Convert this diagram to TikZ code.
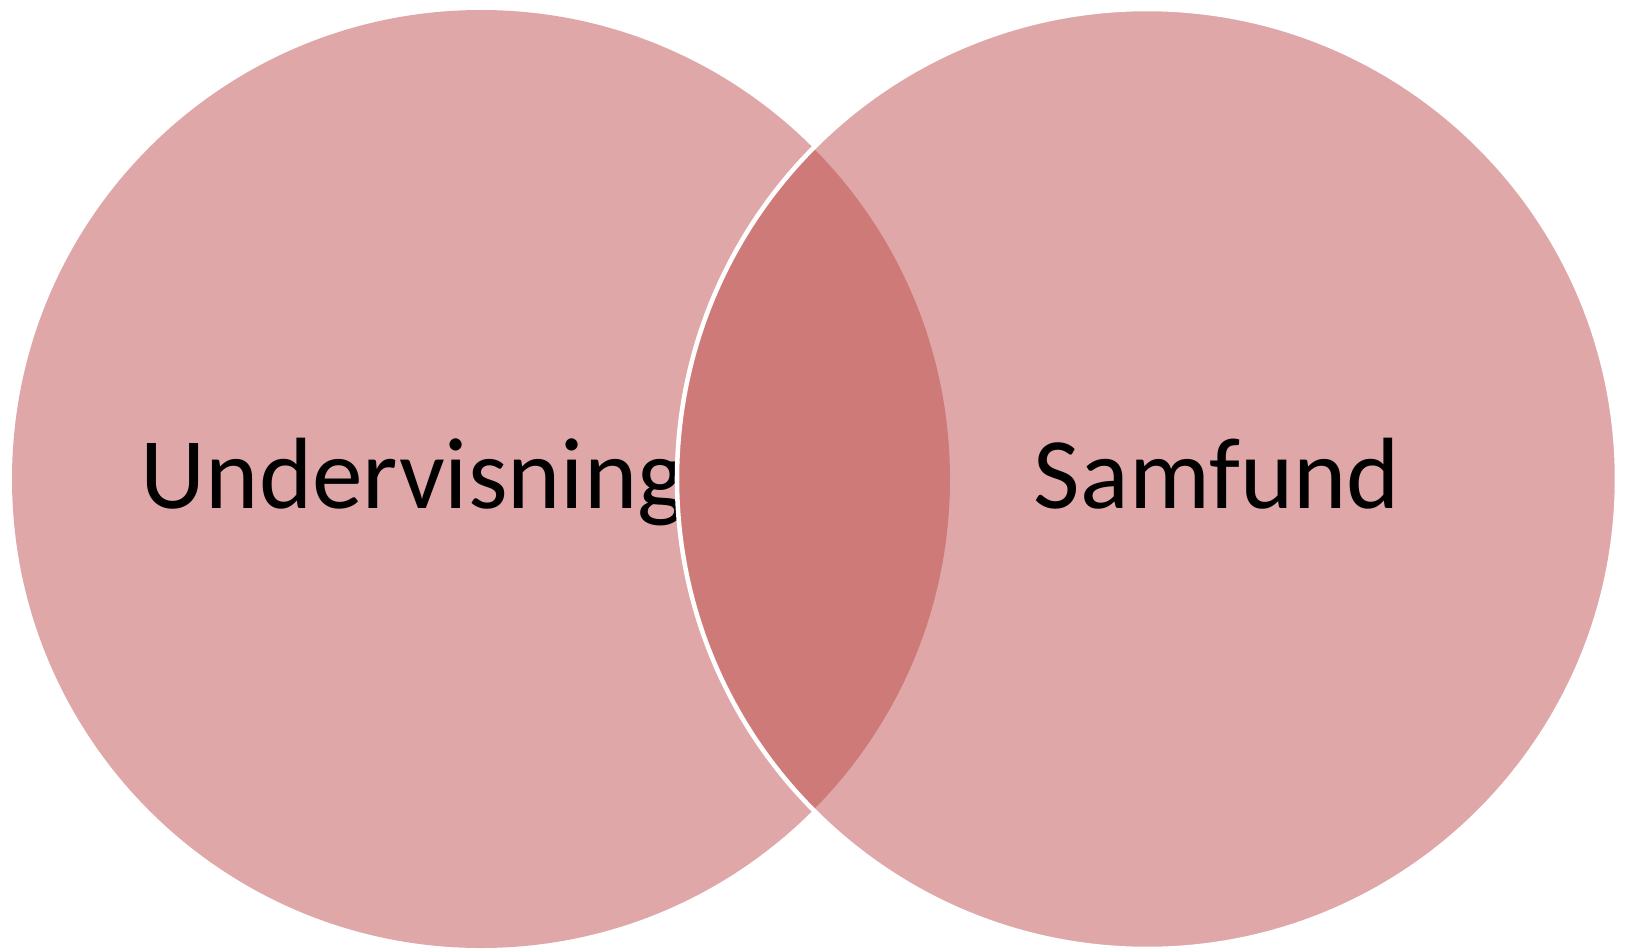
\documentclass[tikz,border=0pt]{standalone}
\usepackage{fontspec}
\setmainfont{Carlito}
\definecolor{vennlight}{RGB}{223,167,167}
\definecolor{venndark}{RGB}{206,122,120}
\tikzset{
  venntext/.style={anchor=base, inner sep=0pt, font=\fontsize{76pt}{90pt}\selectfont}
}
\begin{document}
\begin{tikzpicture}[x=0.75pt, y=-0.75pt]
\useasboundingbox (0,0) rectangle (1625,949);
\coordinate (left) at (481,479);
\coordinate (right) at (1147,479);
\fill[vennlight] (left) circle (469);
\fill[vennlight] (right) circle (470);
\node[venntext] (undervisning) at (413,508) {Undervisning};
\begin{scope}
  \clip (left) circle (469);
  \fill[venndark] (right) circle (470);
\end{scope}
\draw[white, line width=3.4pt] (right) circle (470);
\node[venntext] (samfund) at (1217,508) {Samfund};
\end{tikzpicture}
\end{document}
